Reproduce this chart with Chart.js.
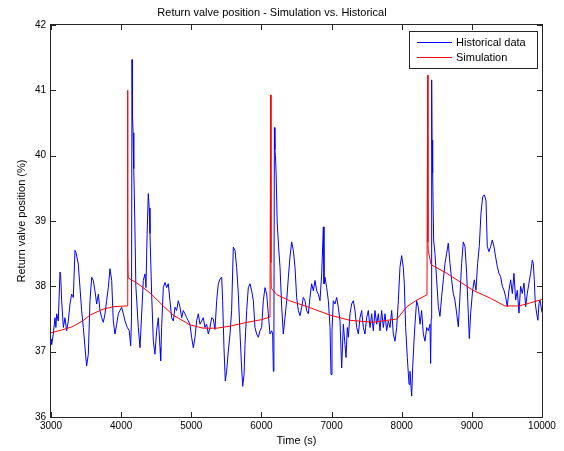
<!DOCTYPE html>
<html>
<head>
<meta charset="utf-8">
<script src="https://cdn.jsdelivr.net/npm/chart.js@4/dist/chart.umd.min.js"></script>
<style>
  html, body { margin: 0; padding: 0; background: #fff; }
  #grafico { display: block; }
</style>
</head>
<body>
<canvas id="grafico" width="564" height="451"></canvas>
<script>
// valores
const histX = [3000,3009,3033,3057,3070,3081,3104,3128,3138,3152,3176,3199,3223,3247,3271,3294,3318,3342,3356,3389,3413,3437,3461,3485,3508,3532,3556,3580,3603,3627,3651,3675,3698,3722,3746,3770,3793,3817,3841,3865,3888,3912,3936,3960,3983,4007,4031,4055,4088,4116,4136,4148,4155,4162,4170,4180,4195,4210,4245,4269,4316,4340,4354,4370,4387,4400,4411,4435,4459,4482,4506,4530,4554,4563,4577,4601,4625,4649,4672,4696,4720,4744,4768,4791,4815,4839,4863,4886,4910,4934,4958,4981,5005,5029,5053,5076,5100,5124,5148,5171,5195,5219,5243,5267,5290,5314,5338,5362,5385,5409,5433,5447,5466,5485,5504,5528,5552,5575,5599,5623,5647,5671,5695,5718,5733,5752,5766,5790,5813,5837,5861,5885,5908,5932,5956,5980,6003,6027,6051,6075,6098,6122,6146,6160,6170,6178,6185,6192,6200,6210,6225,6245,6265,6289,6312,6336,6360,6384,6407,6431,6455,6479,6502,6526,6550,6574,6597,6621,6645,6669,6692,6716,6740,6764,6788,6811,6835,6859,6883,6892,6906,6930,6954,6978,6992,7006,7025,7049,7073,7096,7120,7144,7168,7191,7206,7225,7239,7263,7286,7310,7334,7358,7382,7405,7429,7453,7476,7500,7524,7548,7572,7595,7619,7643,7667,7690,7714,7738,7762,7785,7809,7833,7857,7880,7904,7928,7952,7975,7999,8023,8037,8056,8080,8104,8118,8142,8156,8175,8189,8213,8237,8261,8284,8308,8332,8356,8380,8403,8412,8420,8427,8432,8437,8445,8455,8474,8498,8522,8545,8569,8593,8617,8640,8664,8688,8712,8735,8759,8783,8807,8830,8854,8878,8902,8926,8949,8964,8983,9011,9035,9059,9082,9106,9130,9154,9177,9201,9220,9244,9268,9291,9315,9339,9363,9386,9410,9434,9458,9482,9505,9529,9553,9577,9600,9624,9648,9672,9695,9719,9743,9767,9790,9814,9838,9862,9876,9890,9904,9923,9942,9957,9971,10000];
const histY = [37.19,37.11,37.27,37.52,37.37,37.58,37.47,38.22,38.16,37.78,37.37,37.52,37.32,37.47,37.73,37.88,37.83,38.55,38.52,38.34,37.98,37.63,37.37,37.06,36.78,36.96,37.78,38.14,38.09,37.93,37.73,37.88,37.63,37.52,37.45,37.58,37.78,37.98,38.27,38.09,37.47,37.27,37.42,37.58,37.63,37.68,37.58,37.47,37.37,37.32,37.09,37.52,41.47,40.6,40.35,39.8,39.0,38.0,37.37,37.06,38.09,38.19,37.98,38.8,39.42,39.2,38.81,37.88,37.16,36.96,37.32,37.52,37.06,36.86,37.37,37.98,38.06,37.98,38.04,37.78,37.52,37.47,37.68,37.63,37.78,37.68,37.52,37.63,37.58,37.52,37.47,37.42,37.22,37.06,37.22,37.47,37.58,37.42,37.47,37.52,37.37,37.42,37.27,37.37,37.52,37.50,37.34,37.78,38.04,38.11,38.14,37.78,37.06,36.55,36.70,37.01,37.27,37.63,38.60,38.55,38.29,37.88,37.27,36.75,36.47,36.65,37.11,37.63,37.98,38.04,37.93,37.78,37.37,37.27,37.22,37.32,37.37,37.78,37.98,37.88,37.58,37.27,37.32,37.27,36.70,37.30,40.43,40.09,40.00,39.69,38.97,38.6,38.29,37.68,37.27,37.52,37.78,38.14,38.45,38.68,38.55,38.29,37.83,37.63,37.55,37.68,37.83,37.78,37.63,37.58,37.83,38.04,37.93,38.09,37.93,37.88,37.78,38.19,38.91,38.04,38.14,37.98,37.78,37.37,36.65,37.32,37.78,37.73,37.83,37.68,37.47,36.75,37.42,37.11,36.91,37.37,37.22,37.58,37.73,37.78,37.63,37.37,37.27,37.52,37.63,37.37,37.27,37.52,37.63,37.37,37.58,37.32,37.63,37.42,37.58,37.32,37.63,37.37,37.58,37.32,37.47,37.37,37.63,37.27,37.16,37.37,37.78,38.29,38.47,38.29,38.04,37.37,36.91,36.50,36.70,36.32,36.75,37.16,37.42,37.78,37.68,37.42,37.63,37.27,37.16,37.37,37.32,37.42,36.82,37.50,41.16,40.24,40.04,39.73,38.71,38.50,38.10,37.69,37.54,37.84,38.10,38.35,38.50,38.66,38.35,38.10,37.89,37.79,37.59,37.38,37.84,38.35,38.68,38.61,38.20,37.59,37.20,37.59,37.94,38.10,37.94,38.35,38.61,39.12,39.37,39.40,39.32,38.61,38.53,38.61,38.71,38.61,38.45,38.30,38.20,38.15,38.00,37.94,37.84,37.69,37.94,38.10,37.89,38.20,37.79,37.94,37.59,38.00,37.89,38.05,37.69,37.89,38.05,38.20,38.40,38.35,38.10,37.74,37.59,37.48,37.74,37.79,37.60];

const simX = [3000,3150,3300,3450,3556,3741,3900,4085,4092,4096,4100,4226,4411,4600,4740,4982,5167,5367,5552,5800,6000,6122,6132,6136,6140,6222,6400,6649,6977,7262,7590,7932,8075,8200,8360,8370,8374,8378,8420,8641,9017,9259,9470,9680,9970,10000];
const simY = [37.29,37.33,37.38,37.47,37.56,37.65,37.69,37.70,41.0,38.5,38.13,38.05,37.9,37.7,37.56,37.41,37.36,37.36,37.39,37.45,37.49,37.53,40.93,38.36,37.97,37.87,37.78,37.69,37.56,37.48,37.45,37.5,37.69,37.78,37.87,41.23,38.68,38.55,38.33,38.2,37.94,37.82,37.7,37.7,37.79,37.8];

const xTicks = [3000,4000,5000,6000,7000,8000,9000,10000];
const yTicks = [36,37,38,39,40,41,42];

const nomes = ['Historical data', 'Simulation'];
const titulo = 'Return valve position - Simulation vs. Historical';

const fonte = '"Liberation Sans", Arial, sans-serif';
const corEixo = '#262626';

const pontos = (xs, ys) => xs.map((x, i) => ({x: x, y: ys[i]}));

// moldura com ticks para dentro, titulo e legenda
const moldura = {
  id: 'moldura',
  afterDraw(chart) {
    let ctx = chart.ctx;
    let a = chart.chartArea;
    let sx = chart.scales.x;
    let sy = chart.scales.y;
    ctx.save();
    ctx.strokeStyle = corEixo;
    ctx.lineWidth = 1;
    ctx.strokeRect(a.left - 0.5, a.top - 0.5, a.right - a.left + 1, a.bottom - a.top + 1);
    ctx.beginPath();
    xTicks.forEach(v => {
      let px = Math.round(sx.getPixelForValue(v)) + 0.5;
      ctx.moveTo(px, a.bottom); ctx.lineTo(px, a.bottom - 5);
      ctx.moveTo(px, a.top); ctx.lineTo(px, a.top + 5);
    });
    yTicks.forEach(v => {
      let py = Math.round(sy.getPixelForValue(v)) + 0.5;
      ctx.moveTo(a.left, py); ctx.lineTo(a.left + 5, py);
      ctx.moveTo(a.right, py); ctx.lineTo(a.right - 5, py);
    });
    ctx.stroke();

    // titulo
    ctx.fillStyle = '#000';
    ctx.font = '11px ' + fonte;
    ctx.textAlign = 'center';
    ctx.textBaseline = 'middle';
    ctx.fillText(titulo, 272, 13);

    // legenda
    let lx = 409, ly = 31, lw = 128, lh = 37;
    ctx.fillStyle = '#fff';
    ctx.fillRect(lx, ly, lw, lh);
    ctx.strokeStyle = corEixo;
    ctx.strokeRect(lx + 0.5, ly + 0.5, lw, lh);
    ctx.font = '11px ' + fonte;
    ctx.textAlign = 'left';
    chart.data.datasets.forEach((ds, i) => {
      let y = ly + 11.5 + i * 15;
      ctx.strokeStyle = ds.borderColor;
      ctx.beginPath();
      ctx.moveTo(417, y); ctx.lineTo(452, y);
      ctx.stroke();
      ctx.fillStyle = '#000';
      ctx.fillText(ds.label, 456, y);
    });
    ctx.restore();
  }
};

let ctx = document.getElementById('grafico').getContext('2d');
new Chart(ctx, {
  type: 'line',
  data: {
    datasets: [
      { label: nomes[0], data: pontos(histX, histY), borderColor: '#0000ff', borderWidth: 1, pointRadius: 0, order: 1 },
      { label: nomes[1], data: pontos(simX, simY), borderColor: '#ff0000', borderWidth: 1, pointRadius: 0, order: 0 }
    ]
  },
  options: {
    responsive: false,
    animation: false,
    layout: { padding: { top: 25, right: 22, bottom: 0, left: 0 } },
    plugins: { legend: { display: false }, title: { display: false }, tooltip: { enabled: false } },
    scales: {
      x: {
        type: 'linear', min: 3000, max: 10000,
        afterBuildTicks: s => { s.ticks = xTicks.map(v => ({value: v})); },
        afterFit: s => { s.height = 34; },
        grid: { display: false, drawTicks: false },
        border: { display: false },
        ticks: { color: '#000', padding: 3, maxRotation: 0, callback: v => String(v), font: { family: fonte, size: 10 } },
        title: { display: true, text: 'Time (s)', color: '#000', font: { family: fonte, size: 11 }, padding: { top: 0, bottom: 3 } }
      },
      y: {
        type: 'linear', min: 36, max: 42,
        afterBuildTicks: s => { s.ticks = yTicks.map(v => ({value: v})); },
        afterFit: s => { s.width = 51; },
        grid: { display: false, drawTicks: false },
        border: { display: false },
        ticks: { color: '#000', padding: 5, callback: v => String(v), font: { family: fonte, size: 10 } },
        title: { display: true, text: 'Return valve position (%)', color: '#000', font: { family: fonte, size: 11 }, padding: { top: 15, bottom: 0 } }
      }
    }
  },
  plugins: [moldura]
});
</script>
</body>
</html>
